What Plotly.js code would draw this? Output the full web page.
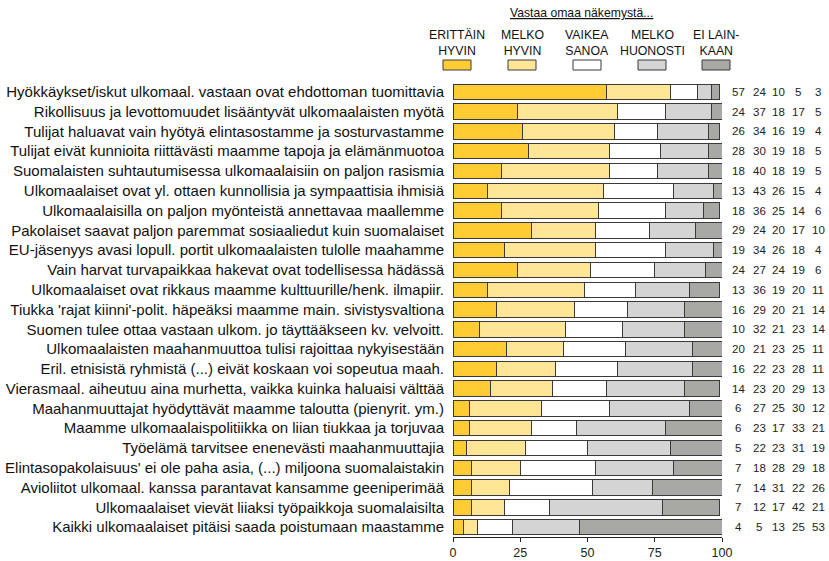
<!DOCTYPE html>
<html>
<head>
<meta charset="utf-8">
<script src="https://cdn.plot.ly/plotly-3.0.1.min.js"></script>
<style>html,body{margin:0;padding:0;background:#fff;}#chart{width:829px;height:561px;}</style>
</head>
<body>
<div id="chart"></div>
<script>
const statements = [
  "Hyökkäykset/iskut ulkomaal. vastaan ovat ehdottoman tuomittavia",
  "Rikollisuus ja levottomuudet lisääntyvät ulkomaalaisten myötä",
  "Tulijat haluavat vain hyötyä elintasostamme ja sosturvastamme",
  "Tulijat eivät kunnioita riittävästi maamme tapoja ja elämänmuotoa",
  "Suomalaisten suhtautumisessa ulkomaalaisiin on paljon rasismia",
  "Ulkomaalaiset ovat yl. ottaen kunnollisia ja sympaattisia ihmisiä",
  "Ulkomaalaisilla on paljon myönteistä annettavaa maallemme",
  "Pakolaiset saavat paljon paremmat sosiaaliedut kuin suomalaiset",
  "EU-jäsenyys avasi lopull. portit ulkomaalaisten tulolle maahamme",
  "Vain harvat turvapaikkaa hakevat ovat todellisessa hädässä",
  "Ulkomaalaiset ovat rikkaus maamme kulttuurille/henk. ilmapiir.",
  "Tiukka 'rajat kiinni'-polit. häpeäksi maamme main. sivistysvaltiona",
  "Suomen tulee ottaa vastaan ulkom. jo täyttääkseen kv. velvoitt.",
  "Ulkomaalaisten maahanmuuttoa tulisi rajoittaa nykyisestään",
  "Eril. etnisistä ryhmistä (...) eivät koskaan voi sopeutua maah.",
  "Vierasmaal. aiheutuu aina murhetta, vaikka kuinka haluaisi välttää",
  "Maahanmuuttajat hyödyttävät maamme taloutta (pienyrit. ym.)",
  "Maamme ulkomaalaispolitiikka on liian tiukkaa ja torjuvaa",
  "Työelämä tarvitsee enenevästi maahanmuuttajia",
  "Elintasopakolaisuus' ei ole paha asia, (...) miljoona suomalaistakin",
  "Avioliitot ulkomaal. kanssa parantavat kansamme geeniperimää",
  "Ulkomaalaiset vievät liiaksi työpaikkoja suomalaisilta",
  "Kaikki ulkomaalaiset pitäisi saada poistumaan maastamme"
];
const erittainHyvin = [57,24,26,28,18,13,18,29,19,24,13,16,10,20,16,14,6,6,5,7,7,7,4];
const melkoHyvin    = [24,37,34,30,40,43,36,24,34,27,36,29,32,21,22,23,27,23,22,18,14,12,5];
const vaikeaSanoa   = [10,18,16,19,18,26,25,20,26,24,19,20,21,23,23,20,25,17,23,28,31,17,13];
const melkoHuonosti = [5,17,19,18,19,15,14,17,18,19,20,21,23,25,28,29,30,33,31,29,22,42,25];
const eiLainkaan    = [3,5,4,5,5,4,6,10,4,6,11,14,14,11,11,13,12,21,19,18,26,21,53];
const seriesNames = ["ERITTÄIN<br>HYVIN","MELKO<br>HYVIN","VAIKEA<br>SANOA","MELKO<br>HUONOSTI","EI LAIN-<br>KAAN"];
const xTicks = [0,25,50,75,100];
const legendTitle = "Vastaa omaa näkemystä...";

const allSeries = [erittainHyvin, melkoHyvin, vaikeaSanoa, melkoHuonosti, eiLainkaan];
const colors = ["#FFCD33","#FFE697","#FFFFFF","#D4D4D4","#A8A8A4"];
const font = "Liberation Sans, Arial, sans-serif";

const traces = allSeries.map((vals, i) => ({
  type: "bar",
  orientation: "h",
  x: vals,
  y: statements,
  name: seriesNames[i],
  marker: {color: colors[i], line: {color: "#3a3a3a", width: 1}},
  hoverinfo: "x+y",
  showlegend: false
}));

// pixel helpers for paper coords
const L = 453, R = 722, T = 82, B = 537;
const px = p => (p - L) / (R - L);
const py = p => (B - p) / (B - T);

const annotations = [];
const shapes = [];
const colX = [738, 759, 778, 798, 818];
statements.forEach((s, r) => {
  allSeries.forEach((vals, c) => {
    annotations.push({
      xref: "paper", yref: "y", x: px(colX[c]), y: s,
      text: String(vals[r]), showarrow: false, xanchor: "center", yanchor: "middle",
      font: {family: font, size: 11.5, color: "#222"}
    });
  });
});
const legX = [457, 522, 587, 652, 716];
seriesNames.forEach((n, i) => {
  annotations.push({
    xref: "paper", yref: "paper", x: px(legX[i]), y: py(42.5),
    text: n, showarrow: false, xanchor: "center", yanchor: "middle",
    font: {family: font, size: 12.3, color: "#111"}
  });
  shapes.push({
    type: "rect", xref: "paper", yref: "paper",
    x0: px(legX[i] - 14), x1: px(legX[i] + 14), y0: py(70), y1: py(60),
    fillcolor: colors[i], line: {color: "#3a3a3a", width: 1}
  });
});
annotations.push({
  xref: "paper", yref: "paper", x: px(581), y: py(13),
  text: "<u>" + legendTitle + "</u>", showarrow: false, xanchor: "center", yanchor: "middle",
  font: {family: font, size: 12.2, color: "#111"}
});

const layout = {
  width: 829, height: 561,
  margin: {l: L, r: 829 - R, t: T, b: 561 - B, pad: 0},
  barmode: "stack",
  bargap: 0.22,
  paper_bgcolor: "#fff",
  plot_bgcolor: "#fff",
  xaxis: {
    range: [0, 100], tickvals: xTicks, ticktext: xTicks.map(String),
    showgrid: false, zeroline: false, showline: true, linecolor: "#222", linewidth: 1,
    ticks: "outside", ticklen: 4, tickcolor: "#222",
    tickfont: {family: font, size: 12.5, color: "#222"}, fixedrange: true
  },
  yaxis: {
    type: "category", autorange: "reversed", showgrid: false, zeroline: false, showline: false,
    ticks: "", ticklabelstandoff: 8,
    tickfont: {family: font, size: 15, color: "#111"}, fixedrange: true
  },
  annotations: annotations,
  shapes: shapes
};

Plotly.newPlot("chart", traces, layout, {displayModeBar: false, staticPlot: true});
</script>
</body>
</html>
